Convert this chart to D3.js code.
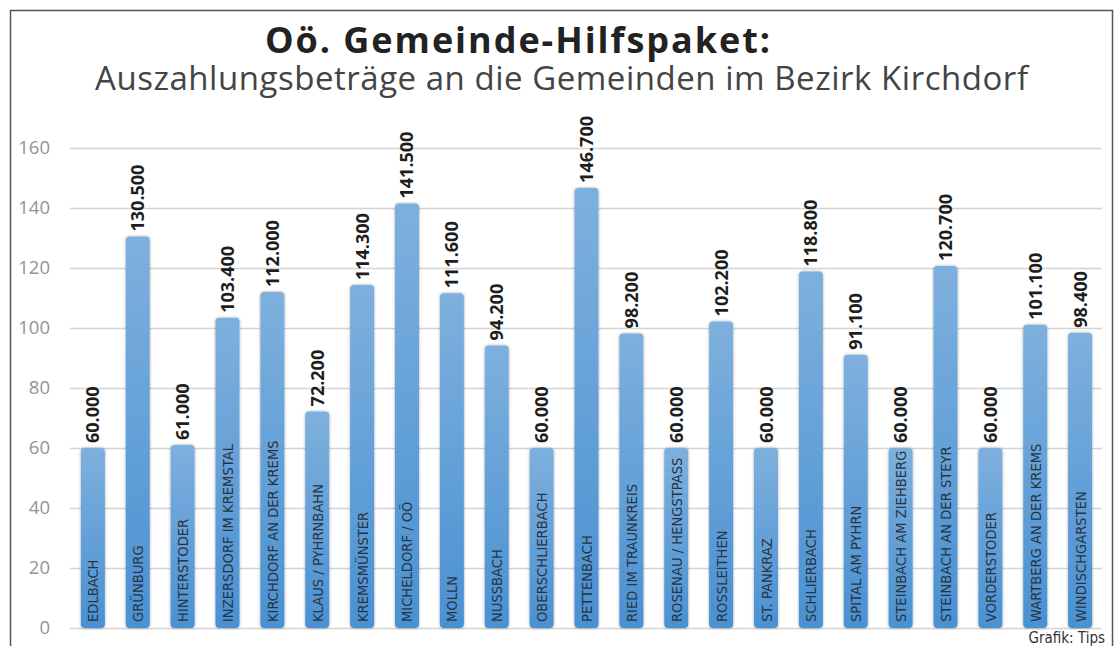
<!DOCTYPE html>
<html>
<head>
<meta charset="utf-8">
<script src="https://cdn.jsdelivr.net/npm/d3@7"></script>
<style>
  body { margin: 0; background: #fff; }
  svg { display: block; }
</style>
</head>
<body>
<div id="chart"></div>
<script>
// Gemeinden im Bezirk Kirchdorf (Werte in Tausend Euro)
const gemeinden = [
    "EDLBACH", "GRÜNBURG", "HINTERSTODER", "INZERSDORF IM KREMSTAL",
    "KIRCHDORF AN DER KREMS", "KLAUS / PYHRNBAHN", "KREMSMÜNSTER", "MICHELDORF / OÖ",
    "MOLLN", "NUSSBACH", "OBERSCHLIERBACH", "PETTENBACH", "RIED IM TRAUNKREIS",
    "ROSENAU / HENGSTPASS", "ROSSLEITHEN", "ST. PANKRAZ", "SCHLIERBACH",
    "SPITAL AM PYHRN", "STEINBACH AM ZIEHBERG", "STEINBACH AN DER STEYR",
    "VORDERSTODER", "WARTBERG AN DER KREMS", "WINDISCHGARSTEN"
];
const betraege = [
    60.0, 130.5, 61.0, 103.4,
    112.0, 72.2, 114.3, 141.5,
    111.6, 94.2, 60.0, 146.7, 98.2,
    60.0, 102.2, 60.0, 118.8,
    91.1, 60.0, 120.7,
    60.0, 101.1, 98.4
];
const yTicks = [0, 20, 40, 60, 80, 100, 120, 140, 160];

const width = 1118;
const height = 646;

const svg = d3.select("#chart")
    .append("svg")
    .attr("width", width)
    .attr("height", height);

// bar gradient
const defs = svg.append("defs");
const grad = defs.append("linearGradient")
    .attr("id", "barGrad")
    .attr("x1", 0).attr("y1", 0).attr("x2", 0).attr("y2", 1);
grad.append("stop").attr("offset", "0%").attr("stop-color", "#7eb0dd");
grad.append("stop").attr("offset", "100%").attr("stop-color", "#4a91d3");

const shadow = defs.append("filter").attr("id", "soft")
    .attr("x", "-30%").attr("y", "-5%").attr("width", "160%").attr("height", "110%");
shadow.append("feGaussianBlur").attr("in", "SourceAlpha").attr("stdDeviation", 1.5).attr("result", "b");
shadow.append("feComponentTransfer").attr("in", "b").attr("result", "b2")
    .append("feFuncA").attr("type", "linear").attr("slope", 0.35);
const merge = shadow.append("feMerge");
merge.append("feMergeNode").attr("in", "b2");
merge.append("feMergeNode").attr("in", "SourceGraphic");

// frame
svg.append("rect")
    .attr("x", 10.5).attr("y", 10.5)
    .attr("width", 1102).attr("height", 660)
    .attr("fill", "none")
    .attr("stroke", "#555")
    .attr("stroke-width", 1.5);

// titles
svg.append("text")
    .attr("x", 265).attr("y", 53)
    .attr("font-family", "Open Sans, sans-serif")
    .attr("font-weight", "bold")
    .attr("font-size", "36px")
    .attr("textLength", 505)
    .attr("lengthAdjust", "spacing")
    .attr("fill", "#222")
    .text("Oö. Gemeinde-Hilfspaket:");

svg.append("text")
    .attr("x", 95).attr("y", 90)
    .attr("font-family", "Open Sans, sans-serif")
    .attr("font-size", "33px")
    .attr("textLength", 933)
    .attr("lengthAdjust", "spacing")
    .attr("fill", "#444")
    .text("Auszahlungsbeträge an die Gemeinden im Bezirk Kirchdorf");

// scales
const x = d3.scaleBand()
    .domain(gemeinden)
    .range([60, 1113])
    .paddingInner(0.465)
    .paddingOuter(0.465);

const y = d3.scaleLinear()
    .domain([0, 160])
    .range([628, 148]);

// gridlines + y labels
const yAxis = svg.append("g")
    .attr("transform", "translate(70,0)")
    .call(d3.axisLeft(y).tickValues(yTicks).tickSize(-1032).tickPadding(20));
yAxis.select(".domain").remove();
yAxis.selectAll(".tick line").attr("stroke", "#d4d4d4").attr("stroke-width", 1.5);
yAxis.selectAll(".tick text")
    .attr("font-family", "Open Sans, sans-serif")
    .attr("font-size", "18.5px")
    .attr("fill", "#949494");

const de = d3.formatLocale({ decimal: ",", thousands: ".", grouping: [3], currency: ["", " €"] });
const fmt = de.format(",");

const data = gemeinden.map((name, i) => ({ name, value: betraege[i] }));

// bars
svg.append("g").selectAll("rect")
    .data(data)
    .enter()
    .append("rect")
    .attr("x", d => x(d.name))
    .attr("y", d => y(d.value))
    .attr("width", x.bandwidth())
    .attr("height", d => y(0) - y(d.value))
    .attr("rx", 4)
    .attr("fill", "url(#barGrad)")
    .attr("filter", "url(#soft)");

// value labels above bars
svg.append("g").selectAll("text")
    .data(data)
    .enter()
    .append("text")
    .attr("transform", d => `translate(${x(d.name) + x.bandwidth() / 2 + 6.5}, ${y(d.value) - 5}) rotate(-90)`)
    .attr("font-family", "Open Sans, sans-serif")
    .attr("font-weight", "bold")
    .attr("font-size", "18px")
    .attr("fill", "#1e1e1e")
    .text(d => fmt(Math.round(d.value * 1000)));

// category names inside bars
svg.append("g").selectAll("text")
    .data(data)
    .enter()
    .append("text")
    .attr("transform", d => `translate(${x(d.name) + x.bandwidth() / 2 + 5.5}, ${y(0) - 6}) rotate(-90)`)
    .attr("font-family", "Liberation Sans Narrow, DejaVu Sans Condensed, sans-serif")
    .attr("font-size", "14.6px")
    .attr("fill", "#2a3440")
    .text(d => d.name);

// credit
svg.append("text")
    .attr("x", 1105).attr("y", 643)
    .attr("text-anchor", "end")
    .attr("font-family", "Liberation Sans Narrow, DejaVu Sans Condensed, sans-serif")
    .attr("font-size", "15px")
    .attr("fill", "#333")
    .text("Grafik: Tips");
</script>
</body>
</html>
